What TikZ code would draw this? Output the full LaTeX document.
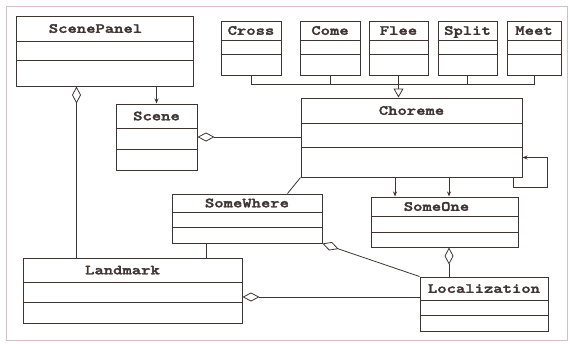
\documentclass[tikz,border=0pt]{standalone}
\usepackage{fontspec}
\usetikzlibrary{positioning}
\usetikzlibrary{calc}
\usetikzlibrary{arrows.meta}
\newfontfamily\umlfont{lmmonolt10-bold}[Extension=.otf, FakeStretch=1.27, FakeBold=2.2]
\definecolor{ink}{RGB}{62,52,50}
\definecolor{frame}{RGB}{215,190,195}
\newcommand{\clsname}[1]{{\umlfont #1}}

\begin{document}
\begin{tikzpicture}[
    x=1pt, y=-1pt,
    umlclass/.style={rectangle, draw=ink, line width=1pt, inner sep=0pt},
    title/.style={inner sep=0pt, text=ink, text height=8.6pt, text depth=0pt,
                  font=\fontsize{14}{16}\selectfont},
    link/.style={draw=ink, line width=0.8pt},
    assoc/.style={link, -{Stealth[length=5pt, width=4pt]}},
    aggr/.style={link, {Diamond[open, length=17pt, width=9pt]}-},
    inherit/.style={link, -{Triangle[open, length=9pt, width=10pt]}}
]
    \useasboundingbox (0,0) rectangle (570,343);
    \draw[frame, line width=0.8pt] (6,6) rectangle (567,340);

    % classes
    \node[umlclass, minimum width=177pt, minimum height=70pt] (panel) at (104.5,51) {};
    \node[umlclass, minimum width=81pt, minimum height=66pt] (scene) at (156.5,137) {};
    \node[umlclass, minimum width=60pt, minimum height=54pt] (cross) at (251,48) {};
    \node[umlclass, minimum width=60pt, minimum height=54pt] (come) at (330,48) {};
    \node[umlclass, minimum width=59pt, minimum height=54pt] (flee) at (398.5,48) {};
    \node[umlclass, minimum width=59pt, minimum height=54pt] (split) at (467.5,48) {};
    \node[umlclass, minimum width=54pt, minimum height=54pt] (meet) at (534,48) {};
    \node[umlclass, minimum width=221pt, minimum height=79pt] (choreme) at (411.5,137.5) {};
    \node[umlclass, minimum width=150pt, minimum height=49pt] (somewhere) at (247,218.5) {};
    \node[umlclass, minimum width=147pt, minimum height=50pt] (someone) at (444.5,222) {};
    \node[umlclass, minimum width=128pt, minimum height=54pt] (localization) at (484,304) {};
    \node[umlclass, minimum width=219pt, minimum height=65pt] (landmark) at (132.5,290.5) {};

    % compartments and names
    \foreach \n/\t/\a/\b/\s in {panel/ScenePanel/26/45/-9, scene/Scene/25/46/0,
        cross/Cross/20/34/0, come/Come/20/34/0, flee/Flee/20/34/0, split/Split/20/34/0,
        meet/Meet/20/34/0, choreme/Choreme/26/50/0, somewhere/SomeWhere/19/34/0,
        someone/SomeOne/20/36/-8, localization/Localization/24/39/0, landmark/Landmark/25/45/-10} {
        \draw[umlclass] ([yshift=-\a pt]\n.north west) -- ([yshift=-\a pt]\n.north east);
        \draw[umlclass] ([yshift=-\b pt]\n.north west) -- ([yshift=-\b pt]\n.north east);
        \node[title] (\n-title) at ($(\n.north)+(\s,\a/2)$) {\clsname{\t}};
    }

    % generalization of the choremes
    \coordinate (bus) at ($(cross.south)+(0,9)$);
    \draw[link] (cross.south) -- (bus) -| (meet.south);
    \draw[link] (come.south) -- (come.south |- bus);
    \draw[link] (split.south) -- (split.south |- bus);
    \draw[inherit] (flee.south) -- (flee.south |- choreme.north);

    % associations
    \draw[assoc] (scene.north |- panel.south) -- (scene.north);
    \draw[aggr] ([xshift=61pt]panel.south west) -- ([xshift=61pt]panel.south west |- landmark.north);
    \draw[aggr] (scene.east) -- (scene.east -| choreme.west);
    \draw[assoc] ([xshift=-49.5pt]someone.north |- choreme.south) -- ([xshift=-49.5pt]someone.north);
    \draw[assoc] ([xshift=4.5pt]someone.north |- choreme.south) -- ([xshift=4.5pt]someone.north);
    \draw[assoc] ([xshift=-9pt]choreme.south east) -- ++(0,10) -- ++(34,0) |- ([yshift=20pt]choreme.south east);
    \draw[link] ([xshift=-35pt]somewhere.north east) -- (choreme.south west);
    \draw[link] ([xshift=35pt]somewhere.south west) -- ([xshift=35pt]somewhere.south west |- landmark.north);
    \draw[aggr] (somewhere.south east) -- (localization.north west);
    \draw[aggr] ([xshift=4.5pt]someone.south) -- ([xshift=4.5pt]someone.south |- localization.north);
    \draw[aggr] ([yshift=-6.5pt]landmark.east) -- ([yshift=-6.5pt]landmark.east -| localization.west);
\end{tikzpicture}
\end{document}
